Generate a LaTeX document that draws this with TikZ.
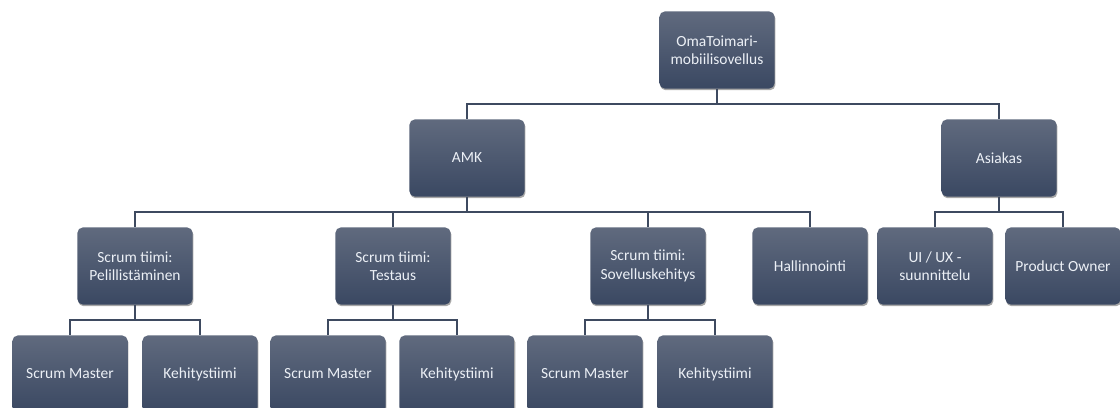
\documentclass[tikz,border=0pt]{standalone}
\usepackage{fontspec}
\setmainfont{Carlito}
\usepackage{tikz}
\usetikzlibrary{shadows}

\definecolor{boxtop}{RGB}{96,106,126}
\definecolor{boxbot}{RGB}{58,72,98}
\definecolor{linecol}{RGB}{62,74,96}
\definecolor{boxtext}{RGB}{236,240,246}

\begin{document}
\begin{tikzpicture}[x=0.025cm, y=-0.025cm,
	orgbox/.style={top color=boxtop, bottom color=boxbot, draw=none, rounded corners=1.3mm,
		minimum width=2.875cm, minimum height=1.925cm, align=center, text=boxtext,
		font=\fontsize{11}{13}\selectfont,
		drop shadow={shadow xshift=0.6pt, shadow yshift=-1.2pt, opacity=0.35, fill=black}},
	orgline/.style={line width=0.4mm, color=linecol}]

		\useasboundingbox (0,0) rectangle (1120,408);

		% top
		\node[orgbox] (oma) at (717,50) {OmaToimari-\\mobiilisovellus};

		% second level
		\node[orgbox] (amk) at (467,158) {AMK};
		\node[orgbox] (asiakas) at (999,158) {Asiakas};

		% third level
		\node[orgbox] (peli) at (135,266) {Scrum tiimi:\\Pelillistäminen};
		\node[orgbox] (testaus) at (393,266) {Scrum tiimi:\\Testaus};
		\node[orgbox] (sovellus) at (648,266) {Scrum tiimi:\\Sovelluskehitys};
		\node[orgbox] (hallinto) at (810,266) {Hallinnointi};
		\node[orgbox] (uiux) at (935,266) {UI / UX -\\suunnittelu};
		\node[orgbox] (owner) at (1063,266) {Product Owner};

		% fourth level
		\node[orgbox] (master1) at (70,374) {Scrum Master};
		\node[orgbox] (kehitys1) at (200,374) {Kehitystiimi};
		\node[orgbox] (master2) at (328,374) {Scrum Master};
		\node[orgbox] (kehitys2) at (457,374) {Kehitystiimi};
		\node[orgbox] (master3) at (585,374) {Scrum Master};
		\node[orgbox] (kehitys3) at (715,374) {Kehitystiimi};

		% connectors
		\foreach \parent/\child in {oma/amk, oma/asiakas,
			amk/peli, amk/testaus, amk/sovellus, amk/hallinto,
			asiakas/uiux, asiakas/owner,
			peli/master1, peli/kehitys1, testaus/master2, testaus/kehitys2,
			sovellus/master3, sovellus/kehitys3}
			\draw[orgline] (\parent.south) -- ++(0,15) -| (\child.north);
	\end{tikzpicture}
\end{document}
